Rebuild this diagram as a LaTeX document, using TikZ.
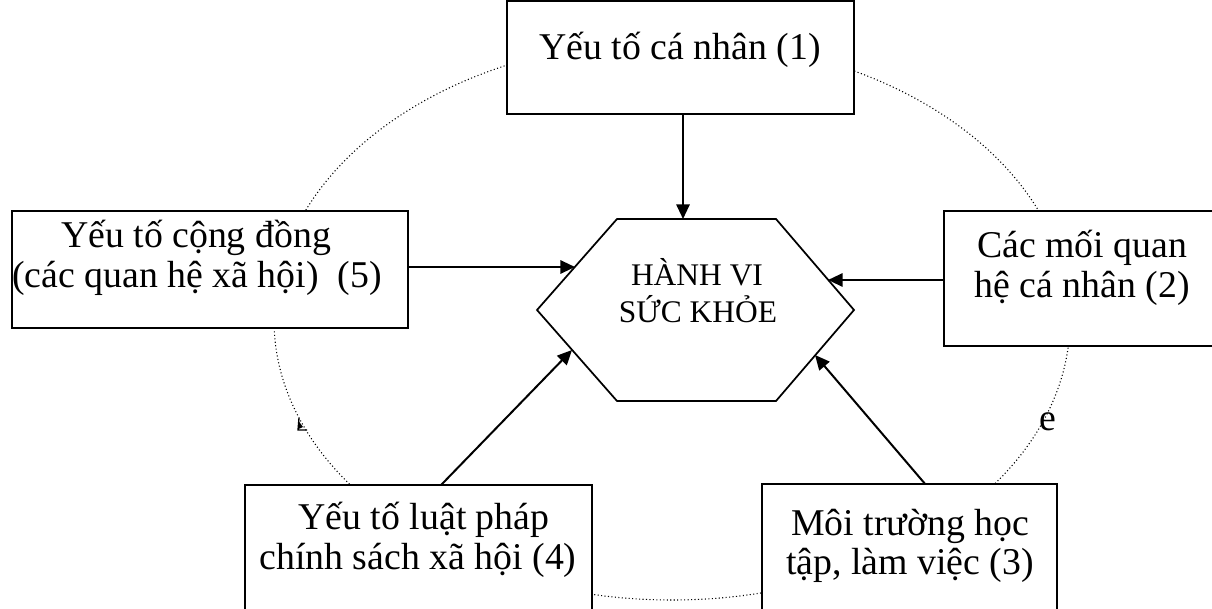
\documentclass[tikz,border=0pt]{standalone}
\usepackage{fontspec}
\setmainfont{Liberation Serif}
\usetikzlibrary{arrows.meta,calc}
\tikzset{
  box/.style={draw, line width=1.3pt, fill=white, inner sep=0pt, outer sep=0pt, anchor=north west},
  boxtext/.style={font=\fontsize{28.35}{29.25}\selectfont, anchor=base, inner sep=0pt},
  hextext/.style={font=\fontsize{23.6}{27}\selectfont, anchor=base, inner sep=0pt},
  arr/.style={line width=1.5pt, -{Triangle[length=11pt,width=10pt]}},
  ring/.style={line width=0.8pt, dash pattern=on 0.8pt off 1.8pt}
}
\begin{document}
\begin{tikzpicture}[x=0.75pt,y=-0.75pt]
\useasboundingbox (0,0) rectangle (1212,609);
\clip (0,0) rectangle (1212,609);
% dotted ring
\draw[ring] (672,320) ellipse [x radius=398, y radius=280];
% small glyph fragment on the ring
\draw[line width=1pt, line join=miter] (299,418) -- (298,430) -- (307,430);
\fill (298.5,421) -- (303,427) -- (298.5,429) -- cycle;
% boxes
\node[box, minimum width=260.25pt, minimum height=84.75pt] (b1) at (507,1) {};
\node[box, minimum width=297pt, minimum height=87.75pt] (b5) at (12,211) {};
\node[box, minimum width=208.5pt, minimum height=101.25pt] (b2) at (944,211) {};
\node[box, minimum width=260.25pt, minimum height=101.25pt] (b4) at (245,485) {};
\node[box, minimum width=221.25pt, minimum height=102pt] (b3) at (762,484) {};
% hexagon
\coordinate (hA) at (617,219);
\coordinate (hB) at (776,219);
\coordinate (hC) at (854,310);
\coordinate (hD) at (776,401);
\coordinate (hE) at (617,401);
\coordinate (hF) at (537,310);
\draw[line width=1.3pt, fill=white] (hA) -- (hB) -- (hC) -- (hD) -- (hE) -- (hF) -- cycle;
\node[hextext] (hx1) at (697,286) {HÀNH VI};
\node[hextext] (hx2) at (698,322) {SỨC KHỎE};
% texts
\node[boxtext] (t1) at (680,60) {Yếu tố cá nhân (1)};
\node[boxtext] (t5a) at (196,248) {Yếu tố cộng đồng};
\node[boxtext] (t5b) at (197,288) {(các quan hệ xã hội)\ \ (5)};
\node[boxtext] (t2a) at (1082,258) {Các mối quan};
\node[boxtext] (t2b) at (1082,297) {hệ cá nhân (2)};
\node[boxtext] (t4a) at (424,529) {Yếu tố luật pháp};
\node[boxtext] (t4b) at (418,569) {chính sách xã hội (4)};
\node[boxtext] (t3a) at (910,535) {Môi trường học};
\node[boxtext] (t3b) at (910,574) {tập, làm việc (3)};
\node[boxtext] (te) at (1048,430) {e};
% arrow end points on the hexagon
\coordinate (h1) at (683,219);
\coordinate (h5) at (575,267);
\coordinate (h2) at (828,280);
\coordinate (h4) at (572,350);
\coordinate (h3) at (815,355);
% arrows
\draw[arr] (b1.south -| h1) -- (h1);
\draw[arr] (b5.east |- h5) -- (h5);
\draw[arr] (b2.west |- h2) -- (h2);
\draw[arr] ($(b4.north west)!0.565!(b4.north east)$) -- (h4);
\draw[arr] ($(b3.north west)!0.553!(b3.north east)$) -- (h3);
\end{tikzpicture}
\end{document}
